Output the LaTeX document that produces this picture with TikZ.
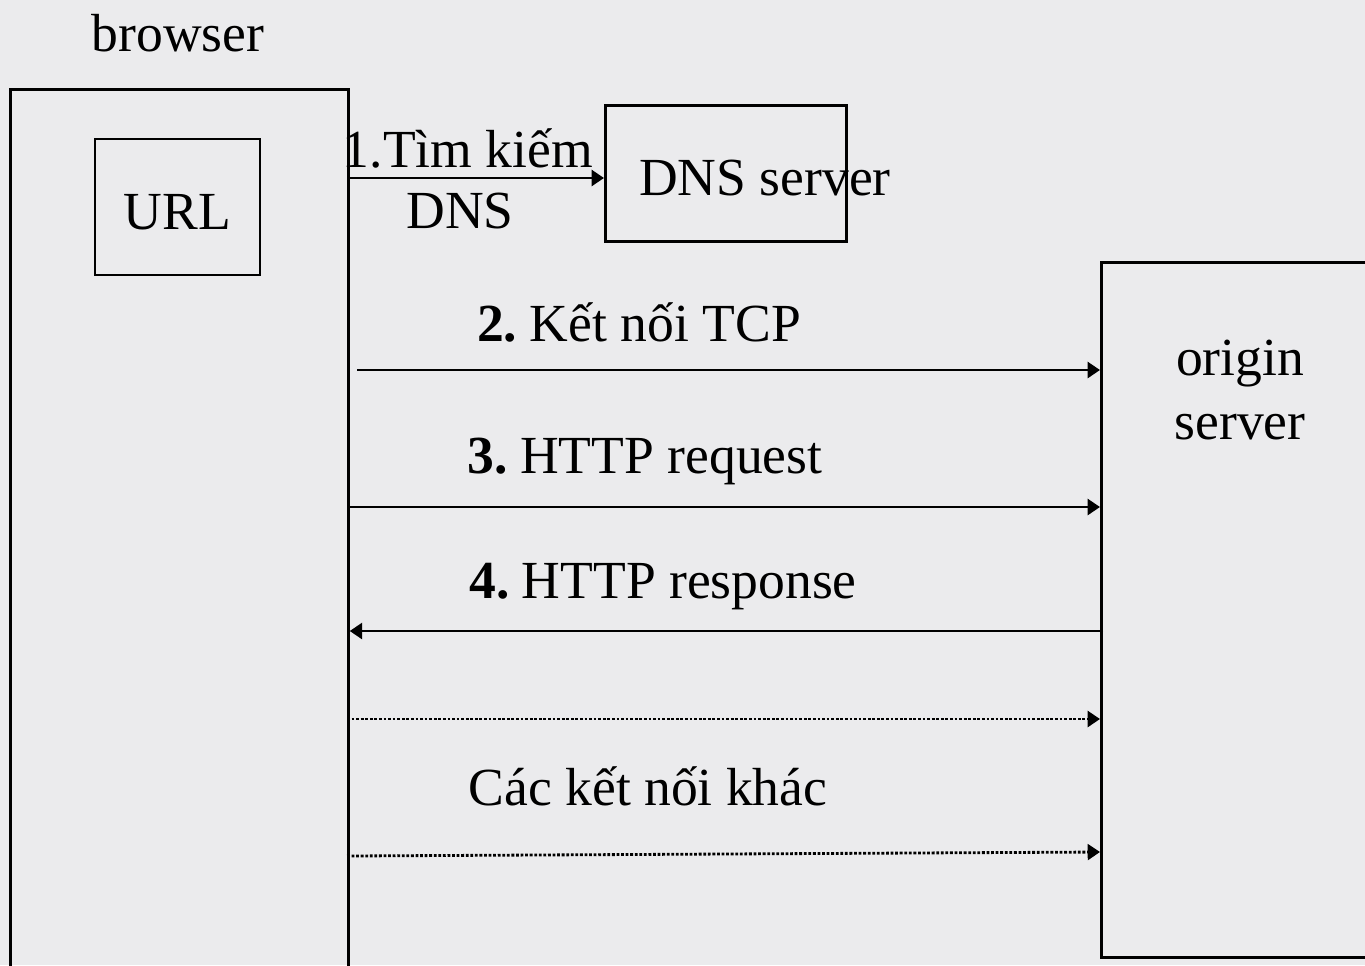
\documentclass[tikz,border=0pt]{standalone}
\usepackage{fontspec}
\setmainfont{Liberation Serif}
\usetikzlibrary{arrows.meta,positioning}
\definecolor{slidebg}{RGB}{235,235,237}
\begin{document}
\begin{tikzpicture}[
  x=0.02cm, y=-0.02cm,
  box/.style={rectangle, draw, line width=1.6pt, inner sep=0pt},
  txt/.style={font=\fontsize{30.5}{36}\selectfont, inner sep=0pt, align=center},
  msg/.style={-{Triangle[length=7pt,width=9pt]}, line width=1.6pt},
  other/.style={msg, densely dotted}
]
\useasboundingbox[fill=slidebg] (0,0) rectangle (1365,965);
\clip (0,0) rectangle (1365,965);

% Browser side
\node[txt] (browserlbl) at (178,33) {browser};
\node[box, minimum width=6.76cm, minimum height=18.4cm, anchor=north west] (browser) at (9,88) {};
\node[box, txt, text height=0.9cm, text depth=0pt, minimum width=3.3cm, minimum height=2.72cm] (url) at (177.5,207) {URL};

% DNS server
\node[box, minimum width=4.82cm, minimum height=2.72cm, anchor=north west] (dns) at (604,104) {};
\node[txt] (dnslbl) at (765,178) {DNS server};

% Origin server
\node[box, minimum width=5.8cm, minimum height=13.9cm, anchor=north west] (origin) at (1100,261) {};
\node[txt] (originlbl) at (1240,390) {origin\\server};

% Labels
\node[txt] (lookup) at (468,148) {1.Tìm kiếm};
\node[txt] (lookupb) at (460,211) {DNS};
\node[txt] (tcplbl) at (639,322) {\textbf{2.}\hspace{-0.1em} Kết nối TCP};
\node[txt] (reqlbl) at (645,461) {\textbf{3.}\hspace{-0.1em} HTTP request};
\node[txt] (resplbl) at (663,587) {\textbf{4.}\hspace{-0.1em} HTTP response};
\node[txt] (otherlbl) at (648,786) {Các kết nối khác};

% Arrows
\coordinate (tcp) at (357,370);
\coordinate (req) at (347,507);
\coordinate (resp) at (1103,631);
\coordinate (oth1) at (347,719);
\coordinate (oth2) at (347,856);
\coordinate (oth2end) at (1100,852);
\draw[msg] (browser.east |- dnslbl) -- (dns.west |- dnslbl);
\draw[msg] (tcp) -- (tcp -| origin.west);
\draw[msg] (req) -- (req -| origin.west);
\draw[msg] (resp) -- (resp -| browser.east);
\draw[other] (oth1) -- (oth1 -| origin.west);
\draw[other] (oth2) -- (oth2end);
\end{tikzpicture}
\end{document}
